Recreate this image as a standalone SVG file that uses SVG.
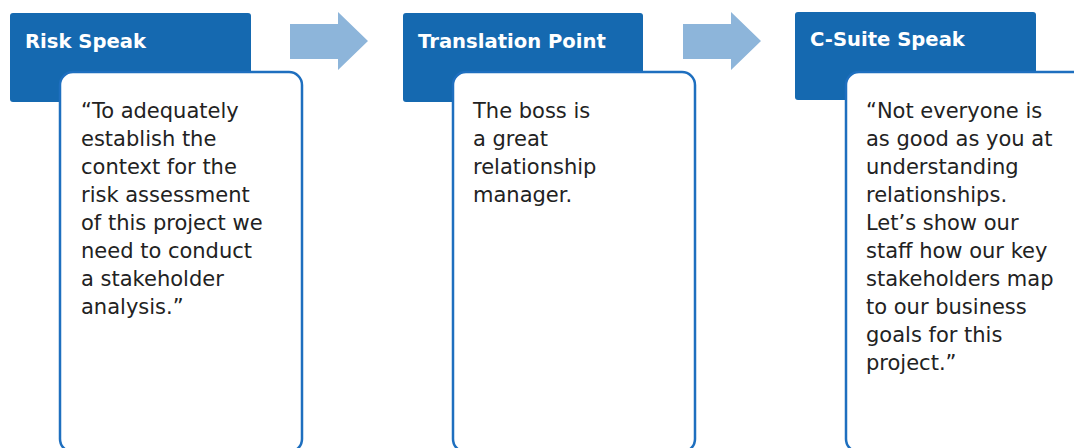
<svg xmlns="http://www.w3.org/2000/svg" width="1074" height="448" viewBox="0 0 1074 448">
<style>
.hdr{fill:#1569b0}
.card{fill:#fff;stroke:#1e6fbf;stroke-width:2.5}
.arr{fill:#8db5da}
.ht{font-family:"DejaVu Sans",Verdana,sans-serif;font-weight:bold;font-size:19.6px;fill:#fff}
.bt{font-family:"DejaVu Sans",Verdana,sans-serif;font-size:21px;fill:#222}
</style>
<rect width="1074" height="448" fill="#fff"/>
<g id="connectors">
<path class="arr" d="M290,24 H338 V12 L368,41 L338,70 V59 H290 Z"/>
<path class="arr" d="M683,24 H731 V12 L761,41 L731,70 V59 H683 Z"/>
</g>
<g id="risk-speak">
<rect class="hdr" x="10" y="13" width="241" height="89" rx="3"/>
<rect class="card" x="60" y="72" width="242" height="380" rx="13"/>
<text class="ht" x="25" y="48">Risk Speak</text>
<text class="bt" x="81" y="118">
<tspan x="81">“To adequately</tspan>
<tspan x="81" dy="28">establish the</tspan>
<tspan x="81" dy="28">context for the</tspan>
<tspan x="81" dy="28">risk assessment</tspan>
<tspan x="81" dy="28">of this project we</tspan>
<tspan x="81" dy="28">need to conduct</tspan>
<tspan x="81" dy="28">a stakeholder</tspan>
<tspan x="81" dy="28">analysis.”</tspan>
</text>
</g>
<g id="translation-point">
<rect class="hdr" x="403" y="13" width="240" height="89" rx="3"/>
<rect class="card" x="453" y="72" width="242" height="380" rx="13"/>
<text class="ht" x="418" y="48">Translation Point</text>
<text class="bt" x="473" y="118">
<tspan x="473">The boss is</tspan>
<tspan x="473" dy="28">a great</tspan>
<tspan x="473" dy="28">relationship</tspan>
<tspan x="473" dy="28">manager.</tspan>
</text>
</g>
<g id="c-suite-speak">
<rect class="hdr" x="795" y="12" width="241" height="88" rx="3"/>
<rect class="card" x="846" y="72" width="250" height="380" rx="13"/>
<text class="ht" x="810" y="46">C-Suite Speak</text>
<text class="bt" x="866" y="118">
<tspan x="866">“Not everyone is</tspan>
<tspan x="866" dy="28">as good as you at</tspan>
<tspan x="866" dy="28">understanding</tspan>
<tspan x="866" dy="28">relationships.</tspan>
<tspan x="866" dy="28">Let’s show our</tspan>
<tspan x="866" dy="28">staff how our key</tspan>
<tspan x="866" dy="28">stakeholders map</tspan>
<tspan x="866" dy="28">to our business</tspan>
<tspan x="866" dy="28">goals for this</tspan>
<tspan x="866" dy="28">project.”</tspan>
</text>
</g>
</svg>
